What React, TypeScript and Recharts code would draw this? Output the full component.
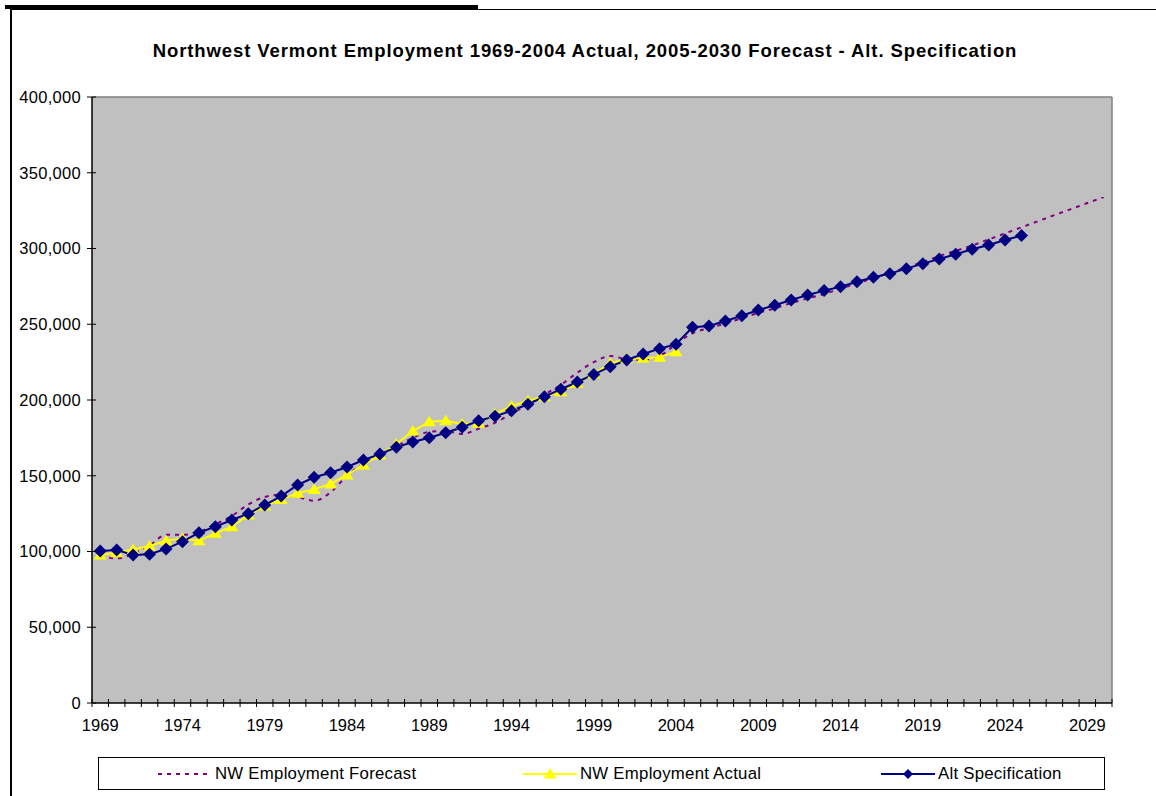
import { CartesianGrid, Line, LineChart, ReferenceLine, XAxis, YAxis } from "recharts";

const years = [
  1969, 1970, 1971, 1972, 1973, 1974, 1975, 1976, 1977, 1978, 1979, 1980, 1981,
  1982, 1983, 1984, 1985, 1986, 1987, 1988, 1989, 1990, 1991, 1992, 1993, 1994,
  1995, 1996, 1997, 1998, 1999, 2000, 2001, 2002, 2003, 2004, 2005, 2006, 2007,
  2008, 2009, 2010, 2011, 2012, 2013, 2014, 2015, 2016, 2017, 2018, 2019, 2020,
  2021, 2022, 2023, 2024, 2025, 2026, 2027, 2028, 2029, 2030,
];

// NW Employment Forecast, 1969-2030
const forecastValues = [
  97000, 95500, 98500, 104000, 111000, 111000, 113000, 118000, 123500, 131000,
  136000, 137500, 136000, 133500, 139000, 150000, 158000, 163500, 169500, 175000,
  179000, 179500, 177500, 181000, 185000, 191000, 197000, 203500, 210000, 218000,
  225000, 229000, 227000, 226500, 229000, 237000, 244000, 247500, 250500, 254000,
  257500, 260500, 264000, 267000, 270000, 273500, 277000, 280500, 284000, 287500,
  291000, 295000, 298500, 302000, 306000, 310000, 314000, 318000, 322000, 326000,
  330000, 334000,
];

// NW Employment Actual, 1969-2004
const actualValues = [
  97700, 99200, 101400, 103600, 107100, 108500, 107100, 112000, 116400, 124100,
  130000, 134400, 138400, 141000, 144600, 150500, 157100, 163700, 171000, 179500,
  185700, 186300, 184200, 184600, 190800, 196000, 199500, 202200, 205500, 211000,
  217200, 224200, 227300, 227500, 228200, 231900,
];

// Alt Specification, 1969-2025
const altValues = [
  100300, 101000, 97700, 98200, 101700, 106500, 112400, 116400, 120800, 125000,
  130700, 136600, 143900, 149000, 152000, 155800, 160400, 164300, 168800, 172300,
  175100, 178400, 182000, 186300, 189200, 192900, 197200, 202200, 207100, 211900,
  216900, 222000, 226400, 230400, 233900, 236800, 248000, 248800, 252100, 255600,
  259400, 262500, 266000, 269300, 272200, 274800, 278100, 281000, 283400, 286700,
  290000, 293100, 296200, 299500, 302300, 305600, 308500,
];

const yTicks = [0, 50000, 100000, 150000, 200000, 250000, 300000, 350000, 400000];

const FONT = '"Liberation Sans", Arial, Helvetica, sans-serif';

const data = years.map((year, i) => ({
  idx: i,
  year,
  forecast: forecastValues[i],
  actual: actualValues[i] ?? null,
  alt: altValues[i] ?? null,
}));

// tick marks sit between categories, labels on every fifth year
const xTicks: number[] = [];
for (let i = 0; i <= years.length * 2; i++) xTicks.push(i / 2 - 0.5);

const series = [
  { key: "forecast", name: "NW Employment Forecast", color: "#800080" },
  { key: "actual", name: "NW Employment Actual", color: "#FFFF00" },
  { key: "alt", name: "Alt Specification", color: "#000080" },
];

const legendLeft = [59, 424, 782];

function XTick(props: any) {
  const { x, y, payload } = props;
  const v = payload.value;
  if (!Number.isInteger(v)) {
    return <line x1={x} x2={x} y1={y - 4} y2={y + 4} stroke="#000" strokeWidth={1} />;
  }
  if (v % 5 !== 0) return <g />;
  return (
    <text x={x} y={y + 28} textAnchor="middle" fontFamily={FONT} fontSize={16.5} fill="#000">
      {years[v]}
    </text>
  );
}

function YTick(props: any) {
  const { x, y, payload } = props;
  return (
    <g>
      <line x1={x - 5} x2={x + 4} y1={y} y2={y} stroke="#000" strokeWidth={1} />
      <text
        x={x - 11}
        y={y}
        dy="0.36em"
        textAnchor="end"
        fontFamily={FONT}
        fontSize={16.5}
        letterSpacing={0.3}
        fill="#000"
      >
        {Number(payload.value).toLocaleString("en-US")}
      </text>
    </g>
  );
}

function TriangleDot(props: any) {
  const { cx, cy, value, index } = props;
  if (cx == null || cy == null || value == null) return <g key={index} />;
  return (
    <polygon
      key={index}
      points={`${cx},${cy - 6} ${cx + 6.5},${cy + 4.5} ${cx - 6.5},${cy + 4.5}`}
      fill="#FFFF00"
    />
  );
}

function DiamondDot(props: any) {
  const { cx, cy, value, index } = props;
  if (cx == null || cy == null || value == null) return <g key={index} />;
  return (
    <polygon
      key={index}
      points={`${cx},${cy - 6.5} ${cx + 6.5},${cy} ${cx},${cy + 6.5} ${cx - 6.5},${cy}`}
      fill="#000080"
    />
  );
}

function LegendSample({ k, color }: { k: string; color: string }) {
  return (
    <svg width={54} height={16} style={{ display: "block" }}>
      <line
        x1={0}
        x2={54}
        y1={8}
        y2={8}
        stroke={color}
        strokeWidth={2}
        strokeDasharray={k === "forecast" ? "4 5" : undefined}
      />
      {k === "actual" && <polygon points="27,2 33.5,12.5 20.5,12.5" fill={color} />}
      {k === "alt" && <polygon points="27,3 32,8 27,13 22,8" fill={color} />}
    </svg>
  );
}

export default function App() {
  return (
    <div
      style={{
        position: "absolute",
        left: 0,
        top: 0,
        width: 1156,
        height: 796,
        background: "#fff",
        overflow: "hidden",
        fontFamily: FONT,
      }}
    >
      {/* page frame */}
      <div style={{ position: "absolute", left: 5, top: 5, width: 473, height: 4, background: "#000" }} />
      <div
        style={{
          position: "absolute",
          left: 10,
          top: 9,
          right: 0,
          bottom: 0,
          borderLeft: "2px solid #000",
          borderTop: "1px solid #000",
        }}
      />

      <div
        style={{
          position: "absolute",
          left: 10,
          top: 40,
          width: 1150,
          lineHeight: "22px",
          textAlign: "center",
          fontWeight: "bold",
          fontSize: 18.5,
          letterSpacing: 0.9,
          color: "#000",
        }}
      >
        Northwest Vermont Employment 1969-2004 Actual, 2005-2030 Forecast - Alt. Specification
      </div>

      <div style={{ position: "absolute", left: 0, top: 0 }}>
        <LineChart width={1156} height={796} data={data} margin={{ top: 97, right: 44, bottom: 53, left: 12 }}>
          <CartesianGrid fill="#C0C0C0" horizontal={false} vertical={false} />
          <ReferenceLine y={400000} stroke="#808080" strokeWidth={1.5} />
          <ReferenceLine x={61.5} stroke="#808080" strokeWidth={1.5} />
          <XAxis
            type="number"
            dataKey="idx"
            domain={[-0.5, 61.5]}
            ticks={xTicks}
            interval={0}
            tick={<XTick />}
            tickLine={false}
            tickSize={0}
            tickMargin={0}
            axisLine={{ stroke: "#000", strokeWidth: 1.5 }}
            height={40}
            allowDecimals
          />
          <YAxis
            type="number"
            domain={[0, 400000]}
            ticks={yTicks}
            interval={0}
            tick={<YTick />}
            tickLine={false}
            tickSize={0}
            tickMargin={0}
            axisLine={{ stroke: "#000", strokeWidth: 1.5 }}
            width={80}
          />
          <Line
            dataKey="forecast"
            name="NW Employment Forecast"
            type="monotone"
            stroke="#800080"
            strokeWidth={2}
            strokeDasharray="4 5"
            dot={false}
            activeDot={false}
            isAnimationActive={false}
          />
          <Line
            dataKey="actual"
            name="NW Employment Actual"
            type="linear"
            stroke="#FFFF00"
            strokeWidth={2}
            dot={<TriangleDot />}
            activeDot={false}
            isAnimationActive={false}
          />
          <Line
            dataKey="alt"
            name="Alt Specification"
            type="linear"
            stroke="#000080"
            strokeWidth={2}
            dot={<DiamondDot />}
            activeDot={false}
            isAnimationActive={false}
          />
        </LineChart>
      </div>

      {/* legend */}
      <div
        style={{
          position: "absolute",
          left: 98,
          top: 757,
          width: 1007,
          height: 33,
          border: "1px solid #000",
          boxSizing: "border-box",
          background: "#fff",
        }}
      >
        {series.map((s, i) => (
          <div
            key={s.key}
            style={{
              position: "absolute",
              left: legendLeft[i],
              top: 0,
              height: 31,
              display: "flex",
              alignItems: "center",
              fontSize: 16.8,
              letterSpacing: 0.25,
              color: "#000",
              whiteSpace: "nowrap",
            }}
          >
            <LegendSample k={s.key} color={s.color} />
            <span style={{ marginLeft: 3 }}>{s.name}</span>
          </div>
        ))}
      </div>
    </div>
  );
}
